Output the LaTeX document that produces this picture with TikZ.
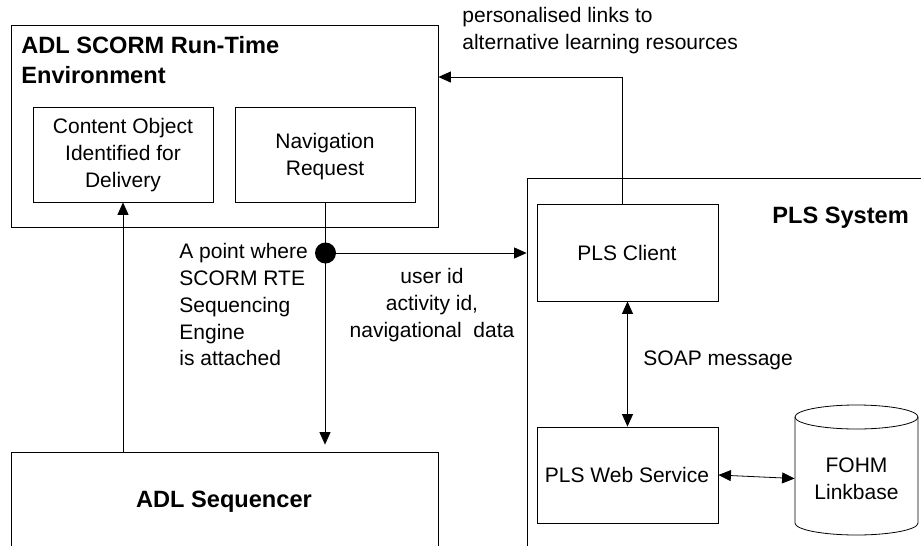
\documentclass[tikz,border=0pt]{standalone}
\usepackage{fontspec}
\setmainfont{Liberation Sans}
\usetikzlibrary{arrows.meta}
\newcommand\rgf{\fontsize{21}{26.8}\selectfont}
\newcommand\bdf{\fontsize{23.6}{30}\selectfont\bfseries}
\begin{document}
\begin{tikzpicture}[x=1pt,y=-1pt,
  line width=0.8pt,
  box/.style={draw, inner sep=0pt},
  lbl/.style={inner sep=0pt, font=\rgf},
  ttl/.style={inner sep=0pt, font=\bdf},
  arr/.style={-{Triangle[length=12.5pt,width=11pt]}},
  dbl/.style={{Triangle[length=12.5pt,width=11pt]}-{Triangle[length=12.5pt,width=11pt]}},
  dotnode/.style={circle, fill, inner sep=0pt, minimum size=21pt}]
\useasboundingbox (0,0) rectangle (921,546);
\clip (0,0) rectangle (921,546);
% boxes
\node[box, minimum width=427, minimum height=202] (rte) at (224.5,126) {};
\node[box, minimum width=180, minimum height=95] (content) at (123,154.5) {};
\node[box, minimum width=180, minimum height=95] (nav) at (325,154.5) {};
\node[box, minimum width=427, minimum height=160] (seq) at (224.5,532) {};
\node[box, minimum width=440, minimum height=420] (pls) at (747,388) {};
\node[box, minimum width=181, minimum height=97] (client) at (627.5,252.5) {};
\node[box, minimum width=181, minimum height=96] (web) at (627.5,475) {};
% cylinder
\node[inner sep=0pt, minimum width=123, font=\rgf, align=center] (fohm) at (856.5,478.5) {FOHM\\Linkbase};
\draw (856.5,417) ellipse[x radius=61.5, y radius=12];
\draw (795,417) -- (795,523) arc[x radius=61.5, y radius=12, start angle=180, end angle=0] -- (918,417);
% texts
\node[ttl, anchor=north west, align=left] (rtetitle) at (21,36.1) {ADL SCORM Run-Time\\Environment};
\node[lbl, anchor=north, align=center] (contenttxt) at (123,118) {Content Object\\Identified for\\Delivery};
\node[lbl, anchor=north, align=center] (navtxt) at (325,133) {Navigation\\Request};
\node[lbl, anchor=north west, align=left] (perstxt) at (462,7) {personalised links to\\alternative learning resources};
\node[lbl, anchor=north west, align=left] (pointtxt) at (179,243) {A point where\\SCORM RTE\\Sequencing\\Engine\\is attached};
\node[lbl, anchor=north, align=center] (usertxt) at (432,268) {user id\\activity id,\\navigational\ \ data};
\node[lbl, anchor=base west] (soaptxt) at (643,365) {SOAP message};
\node[lbl, anchor=base] (clienttxt) at (627,260) {PLS Client};
\node[lbl, anchor=base] (webtxt) at (627,482) {PLS Web Service};
\node[ttl, anchor=base west] (plstxt) at (772,223) {PLS System};
\node[ttl, anchor=base] (seqtxt) at (224,507) {ADL Sequencer};
% connectors
\node[dotnode] (pt) at (325.5,253) {};
\coordinate (fb) at (622,77);
\draw[arr] (seq.north -| content.south) -- (content.south);
\draw[arr, shorten >=7pt] (nav.south) -- (nav.south |- seq.north);
\draw[arr] (pt) -- (pt -| pls.west);
\draw[arr] (client.north -| fb) -- (fb) -- (fb -| rte.east);
\draw[dbl] (client.south) -- (web.north);
\draw[dbl] (web.east) -- (fohm.west);
\end{tikzpicture}
\end{document}
